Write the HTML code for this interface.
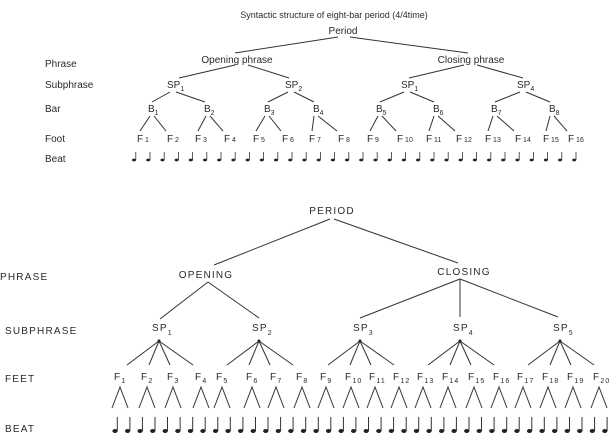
<!DOCTYPE html>
<html><head><meta charset="utf-8"><style>
html,body{margin:0;padding:0;background:#fff;}
svg{display:block;}
text{font-family:"Liberation Sans",sans-serif;fill:#2a2a2a;}
.t{font-size:10px;}
.b{font-size:10px;letter-spacing:1.2px;}
.s{font-size:7px;}
line,path{stroke:#333;stroke-width:1;fill:none;}
</style></head><body>
<svg width="616" height="437" viewBox="0 0 616 437" xmlns="http://www.w3.org/2000/svg">
<defs>
<g id="n1"><line x1="1.8" y1="-8" x2="1.8" y2="0" style="stroke-width:0.8"/><ellipse cx="0" cy="0" rx="2" ry="1.4" fill="#222" stroke="none"/></g>
<g id="n2"><line x1="2.3" y1="-14" x2="2.3" y2="0" style="stroke-width:1"/><ellipse cx="0" cy="0" rx="2.6" ry="2" fill="#222" stroke="none"/></g>
<path id="v" d="M-8,21 L0,0 L8,21"/>
</defs>

<!-- TOP -->
<text class="t" x="334" y="18" text-anchor="middle" style="font-size:9px">Syntactic structure of eight-bar period (4/4time)</text>
<text class="t" x="343" y="34" text-anchor="middle">Period</text>
<text class="t" x="45" y="67">Phrase</text>
<text class="t" x="45" y="88">Subphrase</text>
<text class="t" x="45" y="112">Bar</text>
<text class="t" x="45" y="142">Foot</text>
<text class="t" x="45" y="162">Beat</text>
<text class="t" x="237" y="63" text-anchor="middle">Opening phrase</text>
<text class="t" x="471" y="63" text-anchor="middle">Closing phrase</text>
<line x1="338" y1="37" x2="235" y2="53"/><line x1="350" y1="37" x2="468" y2="53"/>
<line x1="235" y1="65" x2="179" y2="78"/><line x1="248" y1="65" x2="289" y2="78"/>
<line x1="464" y1="65" x2="409" y2="78"/><line x1="477" y1="65" x2="523" y2="78"/>
<text class="t" x="167" y="88">SP<tspan class="s" dy="3">1</tspan></text>
<text class="t" x="285" y="88">SP<tspan class="s" dy="3">2</tspan></text>
<text class="t" x="401" y="88">SP<tspan class="s" dy="3">1</tspan></text>
<text class="t" x="517" y="88">SP<tspan class="s" dy="3">4</tspan></text>
<line x1="170" y1="92" x2="152" y2="102"/><line x1="176" y1="92" x2="205" y2="102"/>
<line x1="288" y1="92" x2="268" y2="102"/><line x1="294" y1="92" x2="314" y2="102"/>
<line x1="404" y1="92" x2="380" y2="102"/><line x1="410" y1="92" x2="434" y2="102"/>
<line x1="520" y1="92" x2="495" y2="102"/><line x1="526" y1="92" x2="550" y2="102"/>
<g class="t">
<text class="t" x="148" y="112">B<tspan class="s" dy="3">1</tspan></text>
<text class="t" x="204" y="112">B<tspan class="s" dy="3">2</tspan></text>
<text class="t" x="264" y="112">B<tspan class="s" dy="3">3</tspan></text>
<text class="t" x="313" y="112">B<tspan class="s" dy="3">4</tspan></text>
<text class="t" x="376" y="112">B<tspan class="s" dy="3">5</tspan></text>
<text class="t" x="433" y="112">B<tspan class="s" dy="3">6</tspan></text>
<text class="t" x="491" y="112">B<tspan class="s" dy="3">7</tspan></text>
<text class="t" x="549" y="112">B<tspan class="s" dy="3">8</tspan></text>
</g>
<line x1="150" y1="116" x2="140" y2="131"/><line x1="154" y1="116" x2="166" y2="131"/>
<line x1="206" y1="116" x2="198" y2="131"/><line x1="210" y1="116" x2="223" y2="131"/>
<line x1="265" y1="116" x2="256" y2="131"/><line x1="269" y1="116" x2="281" y2="131"/>
<line x1="314" y1="116" x2="312" y2="131"/><line x1="318" y1="116" x2="337" y2="131"/>
<line x1="378" y1="116" x2="370" y2="131"/><line x1="382" y1="116" x2="396" y2="131"/>
<line x1="434" y1="116" x2="429" y2="131"/><line x1="438" y1="116" x2="455" y2="131"/>
<line x1="493" y1="116" x2="488" y2="131"/><line x1="497" y1="116" x2="514" y2="131"/>
<line x1="550" y1="116" x2="546" y2="131"/><line x1="554" y1="116" x2="567" y2="131"/>
<text class="t" x="137" y="142">F<tspan class="s"> 1</tspan></text>
<text class="t" x="167" y="142">F<tspan class="s"> 2</tspan></text>
<text class="t" x="195" y="142">F<tspan class="s"> 3</tspan></text>
<text class="t" x="224" y="142">F<tspan class="s"> 4</tspan></text>
<text class="t" x="253" y="142">F<tspan class="s"> 5</tspan></text>
<text class="t" x="282" y="142">F<tspan class="s"> 6</tspan></text>
<text class="t" x="309" y="142">F<tspan class="s"> 7</tspan></text>
<text class="t" x="338" y="142">F<tspan class="s"> 8</tspan></text>
<text class="t" x="367" y="142">F<tspan class="s"> 9</tspan></text>
<text class="t" x="397" y="142">F<tspan class="s"> 10</tspan></text>
<text class="t" x="426" y="142">F<tspan class="s"> 11</tspan></text>
<text class="t" x="456" y="142">F<tspan class="s"> 12</tspan></text>
<text class="t" x="485" y="142">F<tspan class="s"> 13</tspan></text>
<text class="t" x="515" y="142">F<tspan class="s"> 14</tspan></text>
<text class="t" x="543" y="142">F<tspan class="s"> 15</tspan></text>
<text class="t" x="568" y="142">F<tspan class="s"> 16</tspan></text>
<g>
<use href="#n1" x="134" y="160"/><use href="#n1" x="148.2" y="160"/><use href="#n1" x="162.4" y="160"/><use href="#n1" x="176.6" y="160"/>
<use href="#n1" x="190.8" y="160"/><use href="#n1" x="205" y="160"/><use href="#n1" x="219.2" y="160"/><use href="#n1" x="233.4" y="160"/>
<use href="#n1" x="247.6" y="160"/><use href="#n1" x="261.8" y="160"/><use href="#n1" x="276" y="160"/><use href="#n1" x="290.2" y="160"/>
<use href="#n1" x="304.4" y="160"/><use href="#n1" x="318.6" y="160"/><use href="#n1" x="332.8" y="160"/><use href="#n1" x="347" y="160"/>
<use href="#n1" x="361.2" y="160"/><use href="#n1" x="375.4" y="160"/><use href="#n1" x="389.6" y="160"/><use href="#n1" x="403.8" y="160"/>
<use href="#n1" x="418" y="160"/><use href="#n1" x="432.2" y="160"/><use href="#n1" x="446.4" y="160"/><use href="#n1" x="460.6" y="160"/>
<use href="#n1" x="474.8" y="160"/><use href="#n1" x="489" y="160"/><use href="#n1" x="503.2" y="160"/><use href="#n1" x="517.4" y="160"/>
<use href="#n1" x="531.6" y="160"/><use href="#n1" x="545.8" y="160"/><use href="#n1" x="560" y="160"/><use href="#n1" x="574.2" y="160"/>
</g>

<!-- BOTTOM -->
<text class="b" x="332" y="214" text-anchor="middle">PERIOD</text>
<line x1="330" y1="219" x2="214" y2="265"/><line x1="334" y1="219" x2="458" y2="263"/>
<text class="b" x="0" y="280">PHRASE</text>
<text class="b" x="206" y="278" text-anchor="middle">OPENING</text>
<text class="b" x="464" y="275" text-anchor="middle">CLOSING</text>
<line x1="208" y1="282" x2="160" y2="319"/><line x1="208" y1="282" x2="259" y2="318"/>
<line x1="460" y1="279" x2="360" y2="318"/><line x1="460" y1="279" x2="460" y2="317"/><line x1="460" y1="279" x2="558" y2="317"/>
<text class="b" x="5" y="334">SUBPHRASE</text>
<text class="b" x="152" y="331">SP<tspan class="s" dy="4">1</tspan></text>
<text class="b" x="252" y="331">SP<tspan class="s" dy="4">2</tspan></text>
<text class="b" x="353" y="331">SP<tspan class="s" dy="4">3</tspan></text>
<text class="b" x="453" y="331">SP<tspan class="s" dy="4">4</tspan></text>
<text class="b" x="553" y="331">SP<tspan class="s" dy="4">5</tspan></text>
<path d="M127,365 L159,341 L149,365 M159,341 L170,365 M159,341 L193,365"/>
<path d="M227,365 L259,341 L249,365 M259,341 L270,365 M259,341 L293,365"/>
<path d="M328,365 L360,341 L350,365 M360,341 L371,365 M360,341 L394,365"/>
<path d="M428,365 L460,341 L450,365 M460,341 L471,365 M460,341 L494,365"/>
<path d="M528,365 L560,341 L550,365 M560,341 L571,365 M560,341 L594,365"/>
<circle cx="159" cy="341" r="1.5" fill="#222"/><circle cx="259" cy="341" r="1.5" fill="#222"/><circle cx="360" cy="341" r="1.5" fill="#222"/><circle cx="460" cy="341" r="1.5" fill="#222"/><circle cx="560" cy="341" r="1.5" fill="#222"/>
<text class="b" x="5" y="382">FEET</text>
<text class="b" x="114" y="380">F<tspan class="s" dy="3">1</tspan></text>
<text class="b" x="141" y="380">F<tspan class="s" dy="3">2</tspan></text>
<text class="b" x="167" y="380">F<tspan class="s" dy="3">3</tspan></text>
<text class="b" x="195" y="380">F<tspan class="s" dy="3">4</tspan></text>
<text class="b" x="216" y="380">F<tspan class="s" dy="3">5</tspan></text>
<text class="b" x="246" y="380">F<tspan class="s" dy="3">6</tspan></text>
<text class="b" x="270" y="380">F<tspan class="s" dy="3">7</tspan></text>
<text class="b" x="296" y="380">F<tspan class="s" dy="3">8</tspan></text>
<text class="b" x="320" y="380">F<tspan class="s" dy="3">9</tspan></text>
<text class="b" x="345" y="380">F<tspan class="s" dy="3">10</tspan></text>
<text class="b" x="369" y="380">F<tspan class="s" dy="3">11</tspan></text>
<text class="b" x="393" y="380">F<tspan class="s" dy="3">12</tspan></text>
<text class="b" x="417" y="380">F<tspan class="s" dy="3">13</tspan></text>
<text class="b" x="442" y="380">F<tspan class="s" dy="3">14</tspan></text>
<text class="b" x="468" y="380">F<tspan class="s" dy="3">15</tspan></text>
<text class="b" x="493" y="380">F<tspan class="s" dy="3">16</tspan></text>
<text class="b" x="517" y="380">F<tspan class="s" dy="3">17</tspan></text>
<text class="b" x="542" y="380">F<tspan class="s" dy="3">18</tspan></text>
<text class="b" x="567" y="380">F<tspan class="s" dy="3">19</tspan></text>
<text class="b" x="593" y="380">F<tspan class="s" dy="3">20</tspan></text>
<g>
<use href="#v" x="120" y="387"/><use href="#v" x="147" y="387"/><use href="#v" x="173" y="387"/><use href="#v" x="201" y="387"/>
<use href="#v" x="222" y="387"/><use href="#v" x="252" y="387"/><use href="#v" x="276" y="387"/><use href="#v" x="302" y="387"/>
<use href="#v" x="326" y="387"/><use href="#v" x="351" y="387"/><use href="#v" x="375" y="387"/><use href="#v" x="399" y="387"/>
<use href="#v" x="423" y="387"/><use href="#v" x="448" y="387"/><use href="#v" x="474" y="387"/><use href="#v" x="499" y="387"/>
<use href="#v" x="523" y="387"/><use href="#v" x="548" y="387"/><use href="#v" x="573" y="387"/><use href="#v" x="599" y="387"/>
</g>
<text class="b" x="5" y="432">BEAT</text>
<g>
<use href="#n2" x="115" y="431"/><use href="#n2" x="127.6" y="431"/><use href="#n2" x="140.1" y="431"/><use href="#n2" x="152.7" y="431"/>
<use href="#n2" x="165.2" y="431"/><use href="#n2" x="177.8" y="431"/><use href="#n2" x="190.4" y="431"/><use href="#n2" x="202.9" y="431"/>
<use href="#n2" x="215.5" y="431"/><use href="#n2" x="228" y="431"/><use href="#n2" x="240.6" y="431"/><use href="#n2" x="253.2" y="431"/>
<use href="#n2" x="265.7" y="431"/><use href="#n2" x="278.3" y="431"/><use href="#n2" x="290.8" y="431"/><use href="#n2" x="303.4" y="431"/>
<use href="#n2" x="316" y="431"/><use href="#n2" x="328.5" y="431"/><use href="#n2" x="341.1" y="431"/><use href="#n2" x="353.6" y="431"/>
<use href="#n2" x="366.2" y="431"/><use href="#n2" x="378.8" y="431"/><use href="#n2" x="391.3" y="431"/><use href="#n2" x="403.9" y="431"/>
<use href="#n2" x="416.4" y="431"/><use href="#n2" x="429" y="431"/><use href="#n2" x="441.6" y="431"/><use href="#n2" x="454.1" y="431"/>
<use href="#n2" x="466.7" y="431"/><use href="#n2" x="479.2" y="431"/><use href="#n2" x="491.8" y="431"/><use href="#n2" x="504.4" y="431"/>
<use href="#n2" x="516.9" y="431"/><use href="#n2" x="529.5" y="431"/><use href="#n2" x="542" y="431"/><use href="#n2" x="554.6" y="431"/>
<use href="#n2" x="567.2" y="431"/><use href="#n2" x="579.7" y="431"/><use href="#n2" x="592.3" y="431"/><use href="#n2" x="604.8" y="431"/>
</g>
</svg>
</body></html>
